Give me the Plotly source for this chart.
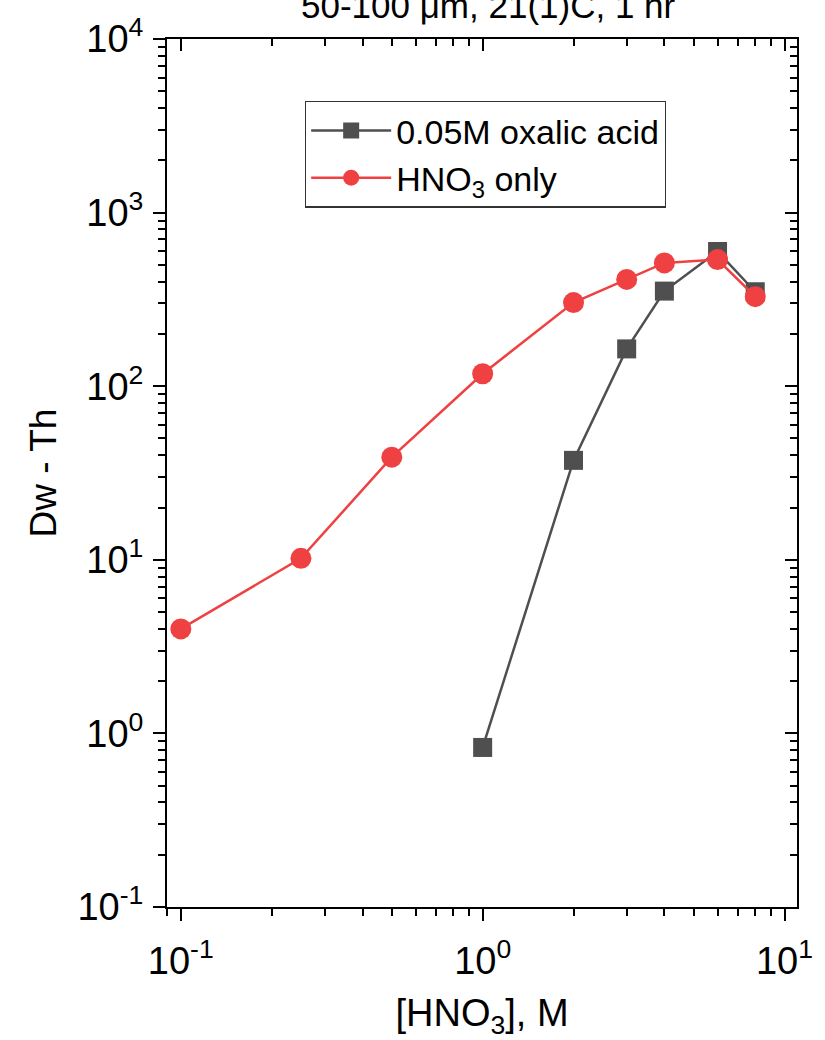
import plotly.graph_objects as go
import numpy as np

# ---- data ----
hno3_only_x = [0.1, 0.25, 0.5, 1, 2, 3, 4, 6, 8]
hno3_only_y = [4.0, 10.2, 39.0, 118, 303, 412, 513, 536, 328]
oxalic_x = [1, 2, 3, 4, 6, 8]
oxalic_y = [0.83, 37.4, 164, 353, 597, 350]

x_tickvals = [0.1, 1, 10]
x_ticktext = ["10<sup>-1</sup>", "10<sup>0</sup>", "10<sup>1</sup>"]
y_tickvals = [0.1, 1, 10, 100, 1000, 10000]
y_ticktext = ["10<sup>-1</sup>", "10<sup>0</sup>", "10<sup>1</sup>", "10<sup>2</sup>",
              "10<sup>3</sup>", "10<sup>4</sup>"]

x_minor = [m * 10.0 ** e for e in (-2, -1, 0) for m in range(2, 10) if 0.09 <= m * 10.0 ** e <= 11]
y_minor = [m * 10.0 ** e for e in (-1, 0, 1, 2, 3) for m in range(2, 10)]

RED = "#EF4141"
DARK = "#4F4F4F"
FONT = "Arial, Liberation Sans, sans-serif"

xr = [np.log10(0.09), np.log10(11)]
yr = [-1, 4]

fig = go.Figure()
fig.add_trace(go.Scatter(
    x=oxalic_x, y=oxalic_y, mode="lines+markers", name="0.05M oxalic acid",
    line=dict(color=DARK, width=2.5),
    marker=dict(symbol="square", size=19, color=DARK),
))
fig.add_trace(go.Scatter(
    x=hno3_only_x, y=hno3_only_y, mode="lines+markers", name="HNO<sub>3</sub> only",
    line=dict(color=RED, width=2.5),
    marker=dict(symbol="circle", size=21, color=RED),
))
# invisible trace to hold the mirrored (top/right) axes
fig.add_trace(go.Scatter(x=[], y=[], xaxis="x2", yaxis="y2", showlegend=False, hoverinfo="skip"))

axis_common = dict(showgrid=False, zeroline=False, showline=True, linecolor="black",
                   linewidth=2, tickcolor="black", tickwidth=2,
                   tickfont=dict(family=FONT, size=38, color="black"))

fig.update_layout(
    width=825, height=1040,
    margin=dict(l=167, r=19, t=30, b=133),
    paper_bgcolor="white", plot_bgcolor="white",
    font=dict(family=FONT, color="black"),
    showlegend=True,
    legend=dict(x=0.219, y=0.929, xanchor="left", yanchor="top",
                bordercolor="#333333", borderwidth=1.2, bgcolor="white",
                font=dict(family=FONT, size=34, color="black"),
                itemwidth=80, tracegroupgap=0),
    xaxis=dict(type="log", range=xr, ticks="outside", ticklen=12,
               tickmode="array", tickvals=x_tickvals, ticktext=x_ticktext,
               ticklabelstandoff=7,
               minor=dict(tickmode="array", tickvals=x_minor, ticks="outside",
                          ticklen=7, tickwidth=2, tickcolor="black"),
               title=dict(text="[HNO<sub>3</sub>], M", font=dict(family=FONT, size=38), standoff=20),
               **axis_common),
    yaxis=dict(type="log", range=yr, ticks="outside", ticklen=12,
               tickmode="array", tickvals=y_tickvals, ticktext=y_ticktext,
               ticklabelstandoff=2,
               minor=dict(tickmode="array", tickvals=y_minor, ticks="outside",
                          ticklen=7, tickwidth=2, tickcolor="black"),
               title=dict(text="Dw - Th", font=dict(family=FONT, size=37), standoff=10),
               **axis_common),
    xaxis2=dict(type="log", range=xr, overlaying="x", side="top", anchor="y2",
                ticks="inside", ticklen=12, tickmode="array", tickvals=x_tickvals,
                showticklabels=False,
                minor=dict(tickmode="array", tickvals=x_minor, ticks="inside",
                           ticklen=7, tickwidth=2, tickcolor="black"),
                **axis_common),
    yaxis2=dict(type="log", range=yr, overlaying="y", side="right", anchor="x2",
                ticks="inside", ticklen=12, tickmode="array", tickvals=y_tickvals,
                showticklabels=False,
                minor=dict(tickmode="array", tickvals=y_minor, ticks="inside",
                           ticklen=7, tickwidth=2, tickcolor="black"),
                **axis_common),
    annotations=[dict(text="50-100 \u03bcm, 21(1)C, 1 hr", xref="paper", yref="paper",
                      x=0.51, y=1, xanchor="center", yanchor="bottom", yshift=12,
                      showarrow=False, font=dict(family=FONT, size=35, color="black"))],
)

fig.write_html("out.html",
               config={"displayModeBar": False},
               post_script="document.body.style.margin='0';document.body.style.padding='0';"
                           "document.body.style.overflow='hidden';")
